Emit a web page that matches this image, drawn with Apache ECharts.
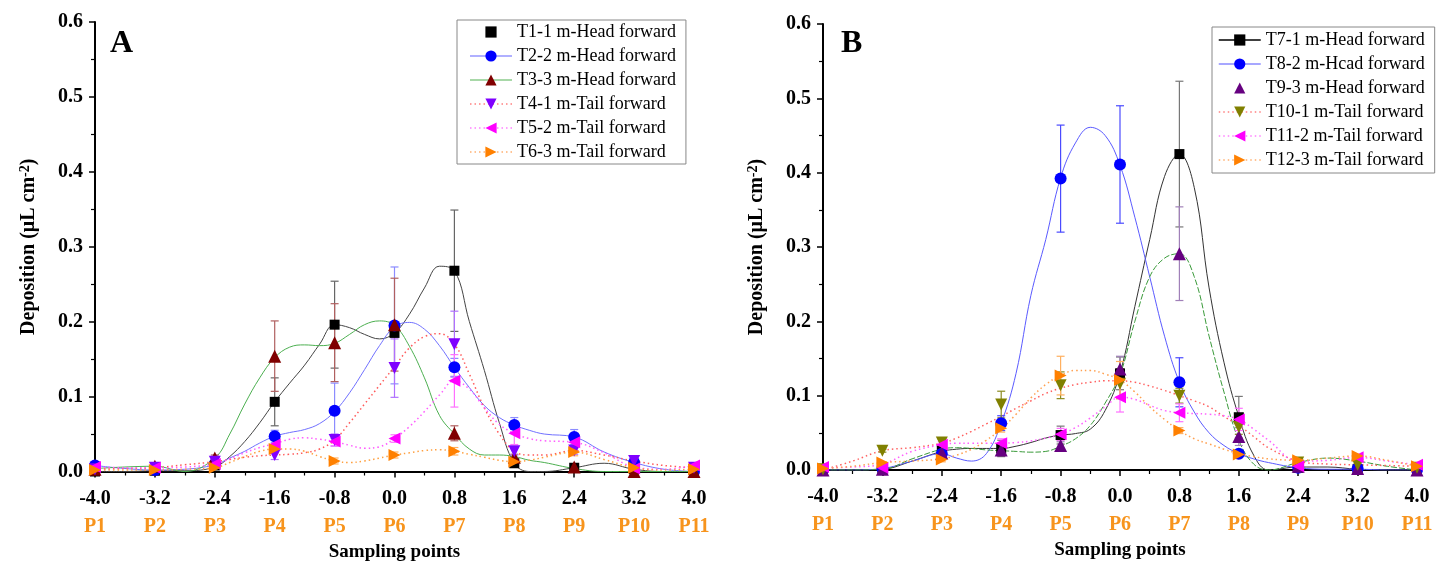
<!DOCTYPE html>
<html lang="en">
<head>
    <meta charset="UTF-8">
    <title>Deposition</title>
    <script src="https://cdn.jsdelivr.net/npm/echarts@6/dist/echarts.min.js"></script>
    <style>
        html, body { margin: 0; padding: 0; background: #fff; }
    </style>
</head>
<body>
<div id="main" style="width:1436px;height:567px;"></div>
<script>
    // sampling positions and tick labels
    var xPos = [-4.0, -3.2, -2.4, -1.6, -0.8, 0.0, 0.8, 1.6, 2.4, 3.2, 4.0];
    var xTicks = ['-4.0', '-3.2', '-2.4', '-1.6', '-0.8', '0.0', '0.8', '1.6', '2.4', '3.2', '4.0'];
    var pLabels = ['P1', 'P2', 'P3', 'P4', 'P5', 'P6', 'P7', 'P8', 'P9', 'P10', 'P11'];
    // x positions of the fitted curves
    var curveX = [-4.0, -3.6, -3.2, -2.8, -2.4, -2.2, -2.0, -1.8, -1.6, -1.4, -1.2, -1.0, -0.8, -0.6, -0.4, -0.2,
        0.0, 0.2, 0.4, 0.6, 0.8, 1.0, 1.2, 1.4, 1.6, 1.8, 2.0, 2.4, 2.8, 3.2, 3.6, 4.0];

    var namesA = ['T1-1 m-Head forward', 'T2-2 m-Head forward', 'T3-3 m-Head forward',
        'T4-1 m-Tail forward', 'T5-2 m-Tail forward', 'T6-3 m-Tail forward'];
    var namesB = ['T7-1 m-Head forward', 'T8-2 m-Hcad forward', 'T9-3 m-Head forward',
        'T10-1 m-Tail forward', 'T11-2 m-Tail forward', 'T12-3 m-Tail forward'];

    // panel A means / errors / fits
    var t1 = [0.0, 0.001, 0.008, 0.093, 0.196, 0.185, 0.268, 0.011, 0.005, 0.003, 0.0];
    var t1Err = [0.001, 0.001, 0.003, 0.032, 0.058, 0.005, 0.081, 0.003, 0.002, 0.001, 0.0];
    var t1Fit = [0, 0, 0.001, 0.001, 0.006, 0.02, 0.04, 0.065, 0.093, 0.118, 0.142, 0.17, 0.196, 0.192, 0.183, 0.177,
        0.185, 0.21, 0.245, 0.274, 0.268, 0.2, 0.135, 0.065, 0.011, 0.0, 0.0, 0.005, 0.011, 0.003, 0, 0];

    var t2 = [0.008, 0.002, 0.01, 0.047, 0.081, 0.195, 0.139, 0.062, 0.046, 0.012, 0.0];
    var t2Err = [0.002, 0.001, 0.003, 0.008, 0.037, 0.078, 0.012, 0.01, 0.01, 0.003, 0.0];
    var t2Fit = [0.008, 0.004, 0.002, 0.003, 0.009, 0.018, 0.027, 0.038, 0.047, 0.052, 0.056, 0.064, 0.08, 0.105, 0.136, 0.168,
        0.193, 0.199, 0.19, 0.168, 0.139, 0.112, 0.088, 0.072, 0.062, 0.055, 0.05, 0.046, 0.026, 0.012, 0.003, 0];

    var t3 = [0.003, 0.007, 0.018, 0.154, 0.172, 0.196, 0.051, 0.019, 0.006, 0.0, 0.0];
    var t3Err = [0.001, 0.003, 0.004, 0.047, 0.052, 0.062, 0.01, 0.004, 0.002, 0.0, 0.0];
    var t3Fit = [0.004, 0.006, 0.007, 0.0, 0.018, 0.05, 0.09, 0.125, 0.152, 0.166, 0.169, 0.168, 0.171, 0.183, 0.196, 0.201,
        0.195, 0.167, 0.125, 0.075, 0.05, 0.03, 0.022, 0.022, 0.02, 0.015, 0.012, 0.004, 0.0, 0.0, 0, 0];

    var t4 = [0.003, 0.005, 0.013, 0.022, 0.042, 0.138, 0.17, 0.027, 0.028, 0.014, 0.005];
    var t4Err = [0.001, 0.002, 0.003, 0.006, 0.008, 0.039, 0.044, 0.005, 0.005, 0.003, 0.001];
    var t4Fit = [0.003, 0.004, 0.005, 0.009, 0.013, 0.016, 0.019, 0.021, 0.022, 0.023, 0.025, 0.03, 0.042, 0.065, 0.09, 0.115,
        0.14, 0.165, 0.18, 0.184, 0.17, 0.13, 0.085, 0.05, 0.027, 0.022, 0.022, 0.028, 0.022, 0.014, 0.008, 0.005];

    var t5 = [0.006, 0.005, 0.01, 0.036, 0.04, 0.044, 0.121, 0.051, 0.039, 0.004, 0.008];
    var t5Err = [0.002, 0.002, 0.003, 0.006, 0.006, 0.005, 0.035, 0.015, 0.006, 0.002, 0.002];
    var t5Fit = [0.006, 0.005, 0.005, 0.006, 0.01, 0.017, 0.025, 0.032, 0.037, 0.043, 0.045, 0.043, 0.04, 0.035, 0.031, 0.033,
        0.044, 0.06, 0.08, 0.102, 0.121, 0.11, 0.085, 0.063, 0.051, 0.044, 0.041, 0.039, 0.025, 0.006, 0.003, 0.008];

    var t6 = [0.002, 0.002, 0.005, 0.03, 0.014, 0.022, 0.027, 0.013, 0.026, 0.005, 0.003];
    var t6Err = [0.001, 0.001, 0.002, 0.005, 0.004, 0.004, 0.005, 0.003, 0.005, 0.002, 0.001];
    var t6Fit = [0.002, 0.002, 0.002, 0.003, 0.005, 0.012, 0.02, 0.027, 0.03, 0.03, 0.027, 0.02, 0.014, 0.012, 0.014, 0.018,
        0.022, 0.025, 0.028, 0.029, 0.027, 0.023, 0.019, 0.015, 0.013, 0.015, 0.019, 0.026, 0.016, 0.005, 0.002, 0.003];

    // panel B means / errors / fits
    var t7 = [0.0, 0.001, 0.026, 0.029, 0.047, 0.13, 0.425, 0.071, 0.003, 0.001, 0.0];
    var t7Err = [0.0, 0.001, 0.005, 0.011, 0.012, 0.022, 0.098, 0.028, 0.002, 0.001, 0.0];
    var t7Fit = [0, 0, 0.001, 0.012, 0.025, 0.028, 0.029, 0.029, 0.029, 0.032, 0.037, 0.043, 0.047, 0.049, 0.055, 0.08,
        0.13, 0.22, 0.31, 0.395, 0.425, 0.38, 0.245, 0.145, 0.072, 0.02, 0.0, 0.004, 0.004, 0.001, 0, 0];

    var t8 = [0.0, 0.002, 0.022, 0.063, 0.392, 0.411, 0.118, 0.022, 0.003, 0.002, 0.0];
    var t8Err = [0.0, 0.001, 0.004, 0.01, 0.072, 0.079, 0.033, 0.004, 0.001, 0.001, 0.0];
    var t8Fit = [0, 0, 0.002, 0.012, 0.022, 0.016, 0.012, 0.022, 0.063, 0.13, 0.235, 0.31, 0.393, 0.44, 0.461, 0.45,
        0.41, 0.34, 0.26, 0.18, 0.118, 0.078, 0.05, 0.033, 0.022, 0.015, 0.01, 0.003, 0.001, 0.001, 0, 0];

    var t9 = [0.0, 0.001, 0.023, 0.027, 0.033, 0.136, 0.291, 0.045, 0.005, 0.002, 0.0];
    var t9Err = [0.0, 0.001, 0.004, 0.005, 0.005, 0.017, 0.063, 0.012, 0.002, 0.001, 0.0];
    var t9Fit = [0, 0, 0.001, 0.015, 0.028, 0.03, 0.029, 0.027, 0.026, 0.025, 0.024, 0.025, 0.032, 0.042, 0.06, 0.09,
        0.128, 0.2, 0.26, 0.285, 0.291, 0.26, 0.18, 0.105, 0.04, 0.008, 0.0, 0.01, 0.016, 0.012, 0.005, 0];

    var t10 = [0.001, 0.026, 0.037, 0.088, 0.114, 0.116, 0.1, 0.058, 0.01, 0.007, 0.003];
    var t10Err = [0.0, 0.002, 0.004, 0.018, 0.018, 0.02, 0.01, 0.01, 0.003, 0.002, 0.001];
    var t10Fit = [0.0, 0.012, 0.026, 0.03, 0.036, 0.043, 0.052, 0.062, 0.072, 0.083, 0.093, 0.103, 0.11, 0.115, 0.118, 0.12,
        0.12, 0.118, 0.113, 0.107, 0.1, 0.093, 0.085, 0.072, 0.06, 0.045, 0.03, 0.012, 0.008, 0.007, 0.006, 0.005];

    var t11 = [0.004, 0.003, 0.034, 0.036, 0.048, 0.098, 0.077, 0.068, 0.005, 0.017, 0.007];
    var t11Err = [0.001, 0.001, 0.004, 0.006, 0.008, 0.02, 0.012, 0.015, 0.002, 0.003, 0.001];
    var t11Fit = [0.003, 0.004, 0.008, 0.025, 0.034, 0.036, 0.036, 0.036, 0.036, 0.037, 0.039, 0.043, 0.048, 0.057, 0.07, 0.085,
        0.098, 0.095, 0.087, 0.08, 0.077, 0.076, 0.075, 0.073, 0.068, 0.055, 0.04, 0.012, 0.013, 0.017, 0.012, 0.007];

    var t12 = [0.002, 0.01, 0.014, 0.056, 0.127, 0.121, 0.053, 0.021, 0.013, 0.019, 0.005];
    var t12Err = [0.0, 0.001, 0.003, 0.005, 0.026, 0.025, 0.004, 0.003, 0.003, 0.002, 0.001];
    var t12Fit = [0.002, 0.005, 0.01, 0.012, 0.015, 0.02, 0.028, 0.04, 0.055, 0.075, 0.097, 0.115, 0.127, 0.134, 0.134, 0.129,
        0.121, 0.105, 0.085, 0.068, 0.053, 0.042, 0.035, 0.028, 0.022, 0.018, 0.015, 0.013, 0.016, 0.019, 0.013, 0.005];

    var FONT = 'Liberation Serif';
    var downTri = 'path://M0,0 L10,0 L5,9 Z';
    var leftTri = 'path://M9,0 L9,10 L0,5 Z';
    var rightTri = 'path://M0,0 L0,10 L9,5 Z';

    var myChart = echarts.init(document.getElementById('main'));

    // one test: points, error bars and fitted curve
    function makeSet(g, name, mean, err, fit, st) {
        var pts = [], bars = [], curve = [];
        for (var i = 0; i < xPos.length; i++) {
            pts.push([xPos[i], mean[i]]);
            bars.push([xPos[i], Math.max(0, mean[i] - err[i]), mean[i] + err[i]]);
        }
        for (var j = 0; j < curveX.length; j++) {
            curve.push([curveX[j], fit[j]]);
        }
        return [
            {
                type: 'line', name: 'fit-' + name, xAxisIndex: g, yAxisIndex: g,
                data: curve, smooth: 0.4, symbol: 'none', silent: true, z: 2,
                lineStyle: {color: st.fit, width: st.fitW || 1, type: st.fitType || 'solid'}
            },
            {
                type: 'custom', name: 'err-' + name, xAxisIndex: g, yAxisIndex: g,
                data: bars, silent: true, z: 3,
                renderItem: function (params, api) {
                    var lo = api.coord([api.value(0), api.value(1)]);
                    var hi = api.coord([api.value(0), api.value(2)]);
                    var s = {stroke: st.err, lineWidth: 1.2};
                    return {
                        type: 'group', children: [
                            {type: 'line', shape: {x1: lo[0], y1: lo[1], x2: hi[0], y2: hi[1]}, style: s},
                            {type: 'line', shape: {x1: hi[0] - 4, y1: hi[1], x2: hi[0] + 4, y2: hi[1]}, style: s},
                            {type: 'line', shape: {x1: lo[0] - 4, y1: lo[1], x2: lo[0] + 4, y2: lo[1]}, style: s}
                        ]
                    };
                }
            },
            {
                type: 'line', name: name, xAxisIndex: g, yAxisIndex: g,
                data: pts, symbol: st.symbol, symbolSize: st.size, silent: true, z: 5,
                itemStyle: {color: st.color, borderWidth: 0},
                lineStyle: {width: 0}
            }
        ];
    }

    var stylesA = [
        {color: '#000000', symbol: 'rect', size: 10, err: '#666666', fit: '#444444', leg: null},
        {color: '#0000ff', symbol: 'circle', size: 12, err: '#8c8cff', fit: '#7070ff', leg: {color: '#b0b0ff', width: 2}},
        {color: '#800000', symbol: 'triangle', size: 13, err: '#b06060', fit: '#4caf50', leg: {color: '#a8d8a8', width: 2}},
        {color: '#7f00ff', symbol: downTri, size: 12, err: '#b070ff', fit: '#ff5a5a', fitType: [1.5, 3], fitW: 1.5, leg: {color: '#ff8080', width: 1.5, type: [1.5, 3]}},
        {color: '#ff00ff', symbol: leftTri, size: 12, err: '#ff70ff', fit: '#ff5aff', fitType: [1.5, 3], fitW: 1.5, leg: {color: '#ff80ff', width: 1.5, type: [1.5, 3]}},
        {color: '#ff8000', symbol: rightTri, size: 12, err: '#ffb060', fit: '#ffa040', fitType: [1.5, 3], fitW: 1.5, leg: {color: '#ffb070', width: 1.5, type: [1.5, 3]}}
    ];
    var stylesB = [
        {color: '#000000', symbol: 'rect', size: 10, err: '#777777', fit: '#333333', leg: {color: '#000', width: 1.5}},
        {color: '#0000ff', symbol: 'circle', size: 12, err: '#4a4aff', fit: '#5a5aff', leg: {color: '#5050ff', width: 1.2}},
        {color: '#660080', symbol: 'triangle', size: 13, err: '#a080b8', fit: '#3a9a3a', fitType: [6, 2], leg: null},
        {color: '#808000', symbol: downTri, size: 12, err: '#8a8a20', fit: '#ff6060', fitType: [1.5, 3], fitW: 1.5, leg: {color: '#ff8080', width: 1.5, type: [1.5, 3]}},
        {color: '#ff00ff', symbol: leftTri, size: 12, err: '#ff70ff', fit: '#ff60ff', fitType: [1.5, 3], fitW: 1.5, leg: {color: '#ff80ff', width: 1.5, type: [1.5, 3]}},
        {color: '#ff8000', symbol: rightTri, size: 12, err: '#ffb060', fit: '#ffa050', fitType: [1.5, 3], fitW: 1.5, leg: {color: '#ffb070', width: 1.5, type: [1.5, 3]}}
    ];

    var setsA = [[t1, t1Err, t1Fit], [t2, t2Err, t2Fit], [t3, t3Err, t3Fit], [t4, t4Err, t4Fit], [t5, t5Err, t5Fit], [t6, t6Err, t6Fit]];
    var setsB = [[t7, t7Err, t7Fit], [t8, t8Err, t8Fit], [t9, t9Err, t9Fit], [t10, t10Err, t10Fit], [t11, t11Err, t11Fit], [t12, t12Err, t12Fit]];

    var series = [];
    setsA.forEach(function (s, i) { series = series.concat(makeSet(0, namesA[i], s[0], s[1], s[2], stylesA[i])); });
    setsB.forEach(function (s, i) { series = series.concat(makeSet(1, namesB[i], s[0], s[1], s[2], stylesB[i])); });

    function legendData(names, styles) {
        return names.map(function (n, i) {
            var l = styles[i].leg;
            return {name: n, lineStyle: l ? {color: l.color, width: l.width, type: l.type || 'solid', opacity: 1} : {width: 0, opacity: 0}};
        });
    }

    function xAxis(g) {
        return {
            gridIndex: g, type: 'value', min: -4, max: 4, interval: 0.8,
            axisLine: {show: true, onZero: false, lineStyle: {color: '#000', width: 2}},
            axisTick: {show: true, length: 6, lineStyle: {color: '#000', width: 1.5}},
            minorTick: {show: true, splitNumber: 2, length: 4, lineStyle: {color: '#000', width: 1.2}},
            splitLine: {show: false},
            axisLabel: {
                margin: 13,
                formatter: function (v) {
                    var k = Math.round((v + 4) / 0.8);
                    return '{a|' + xTicks[k] + '}\n{b|' + pLabels[k] + '}';
                },
                rich: {
                    a: {fontFamily: FONT, fontWeight: 'bold', fontSize: 20, color: '#000', lineHeight: 28},
                    b: {fontFamily: FONT, fontWeight: 'bold', fontSize: 20, color: '#f7941d', lineHeight: 28}
                }
            },
            name: 'Sampling points', nameLocation: 'middle', nameGap: 71, nameMoveOverlap: false,
            nameTextStyle: {fontFamily: FONT, fontWeight: 'bold', fontSize: 19, color: '#000'}
        };
    }

    function yAxis(g) {
        return {
            gridIndex: g, type: 'value', min: 0, max: 0.6, interval: 0.1,
            axisLine: {show: true, onZero: false, lineStyle: {color: '#000', width: 2}},
            axisTick: {show: true, length: 6, lineStyle: {color: '#000', width: 1.5}},
            minorTick: {show: true, splitNumber: 2, length: 4, lineStyle: {color: '#000', width: 1.2}},
            splitLine: {show: false},
            axisLabel: {
                margin: 12, color: '#000', fontFamily: FONT, fontWeight: 'bold', fontSize: 20,
                formatter: function (v) { return v.toFixed(1); }
            },
            name: '{t|Deposition (μL cm}{s|-2}{t|)}', nameLocation: 'middle', nameGap: 55, nameRotate: 90,
            nameMoveOverlap: false,
            nameTextStyle: {
                color: '#000',
                rich: {
                    t: {fontFamily: FONT, fontWeight: 'bold', fontSize: 20, color: '#000', lineHeight: 22},
                    s: {fontFamily: FONT, fontWeight: 'bold', fontSize: 14, color: '#000', verticalAlign: 'top', lineHeight: 22}
                }
            }
        };
    }

    var legendBase = {
        orient: 'vertical', itemWidth: 42, itemHeight: 14, itemGap: 6,
        borderColor: '#888', borderWidth: 1, backgroundColor: '#fff',
        selectedMode: false,
        textStyle: {fontFamily: FONT, fontSize: 18, color: '#000', lineHeight: 18}
    };

    var option = {
        animation: false,
        backgroundColor: '#fff',
        title: [
            {text: 'A', left: 110, top: 28, padding: 0, textStyle: {fontFamily: FONT, fontWeight: 'bold', fontSize: 32, color: '#000'}},
            {text: 'B', left: 841, top: 28, padding: 0, textStyle: {fontFamily: FONT, fontWeight: 'bold', fontSize: 32, color: '#000'}}
        ],
        legend: [
            Object.assign({}, legendBase, {left: 457, top: 20, padding: [3, 10, 3, 12], data: legendData(namesA, stylesA)}),
            Object.assign({}, legendBase, {left: 1212, top: 27, padding: [4, 10, 4, 6], data: legendData(namesB, stylesB)})
        ],
        grid: [
            {left: 95, top: 22, width: 599, height: 449.5, outerBoundsMode: 'none'},
            {left: 823, top: 24, width: 594, height: 446, outerBoundsMode: 'none'}
        ],
        xAxis: [xAxis(0), xAxis(1)],
        yAxis: [yAxis(0), yAxis(1)],
        series: series
    };

    myChart.setOption(option);
</script>
</body>
</html>
